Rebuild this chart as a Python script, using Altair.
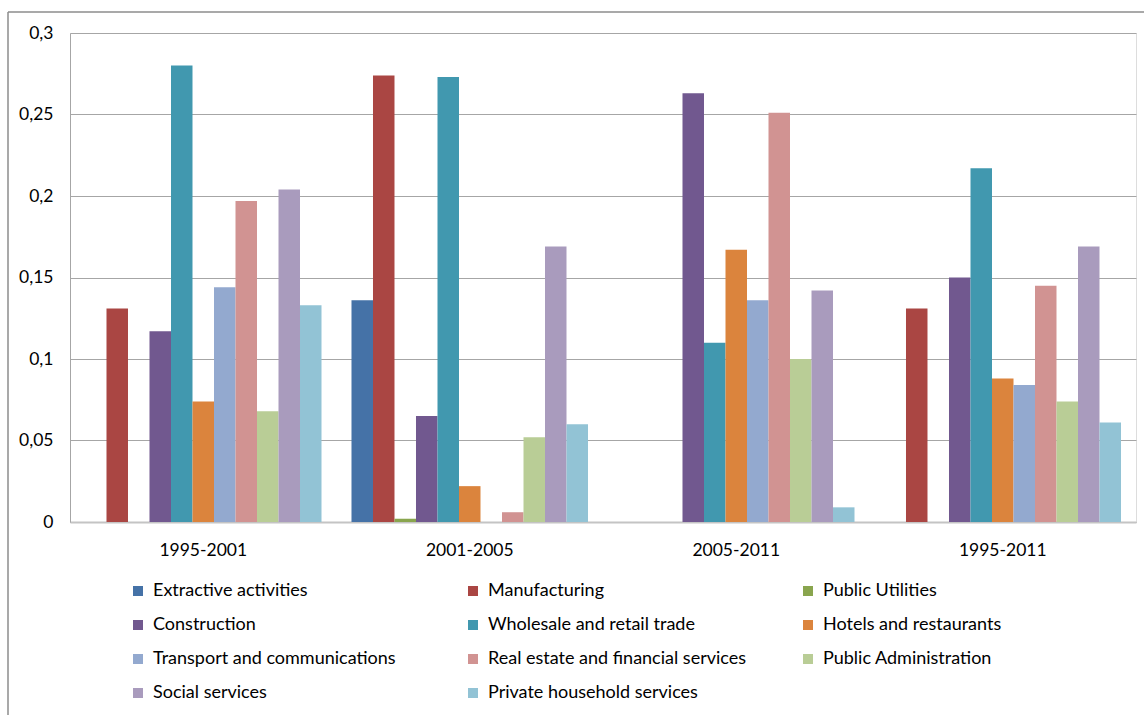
import altair as alt
import pandas as pd

periods = ["1995-2001", "2001-2005", "2005-2011", "1995-2011"]

sectors = [
    "Extractive activities", "Manufacturing", "Public Utilities",
    "Construction", "Wholesale and retail trade", "Hotels and restaurants",
    "Transport and communications", "Real estate and financial services",
    "Public Administration", "Social services", "Private household services",
]

colors = [
    "#4572A7", "#AA4643", "#89A54E", "#71588F", "#4198AF", "#DB843D",
    "#93A9CF", "#D19392", "#B9CD96", "#A99BBD", "#92C3D5",
]

extractive = [0.0, 0.136, 0.0, 0.0]
manufacturing = [0.131, 0.274, 0.0, 0.131]
public_utilities = [0.0, 0.002, 0.0, 0.0]
construction = [0.117, 0.065, 0.263, 0.150]
wholesale = [0.280, 0.273, 0.110, 0.217]
hotels = [0.074, 0.022, 0.167, 0.088]
transport = [0.144, 0.0, 0.136, 0.084]
real_estate = [0.197, 0.006, 0.251, 0.145]
public_admin = [0.068, 0.052, 0.100, 0.074]
social = [0.204, 0.169, 0.142, 0.169]
private_household = [0.133, 0.060, 0.009, 0.061]

series = [extractive, manufacturing, public_utilities, construction, wholesale,
          hotels, transport, real_estate, public_admin, social, private_household]

rows = []
for s, vals in zip(sectors, series):
    for p, v in zip(periods, vals):
        rows.append({"period": p, "sector": s, "value": v})
df = pd.DataFrame(rows)

FONT = "Lato"
W, H = 1066, 489

bars = alt.Chart(df).mark_bar().encode(
    x=alt.X("period:N", sort=periods,
            scale=alt.Scale(paddingInner=0.1125, paddingOuter=0.05625),
            axis=alt.Axis(title=None, labelAngle=0, ticks=False, domain=True,
                          domainColor="#c4c4c4", domainWidth=2, grid=False,
                          labelFont=FONT, labelFontSize=17.5, labelColor="#000000",
                          labelPadding=19)),
    xOffset=alt.XOffset("sector:N", sort=sectors,
                        scale=alt.Scale(paddingInner=0, paddingOuter=0)),
    y=alt.Y("value:Q", scale=alt.Scale(domain=[0, 0.3], nice=False),
            axis=alt.Axis(title=None, values=[0, 0.05, 0.1, 0.15, 0.2, 0.25, 0.3],
                          labelExpr="replace(format(datum.value, '~g'), '.', ',')",
                          ticks=False, domain=True, domainColor="#a6a6a6",
                          grid=True, gridColor="#a6a6a6", gridWidth=1,
                          labelFont=FONT, labelFontSize=17.5, labelColor="#000000",
                          labelPadding=17)),
    color=alt.Color("sector:N", sort=sectors,
                    scale=alt.Scale(domain=sectors, range=colors),
                    legend=alt.Legend(orient="none", legendX=59, legendY=549,
                                      direction="horizontal",
                                      columns=3, gridAlign="all", title=None,
                                      symbolType="square", symbolSize=100,
                                      symbolStrokeWidth=0, labelFont=FONT,
                                      labelFontSize=18, labelColor="#000000",
                                      labelLimit=400, labelOffset=6,
                                      columnPadding=52, rowPadding=16,
                                      padding=0)),
)

frame_df = pd.DataFrame({"k": [0]})
frame_v = alt.Chart(frame_df).mark_rule(color="#8c8c8c", strokeWidth=1.5).encode(
    x=alt.value(-62), y=alt.value(-21), y2=alt.value(H + 300))
frame_h = alt.Chart(frame_df).mark_rule(color="#8c8c8c", strokeWidth=1.5).encode(
    x=alt.value(-62), x2=alt.value(W + 100), y=alt.value(-21))

chart = alt.layer(bars, frame_v, frame_h).properties(
    width=W, height=H,
    autosize=alt.AutoSizeParams(type="none"),
    padding={"left": 70, "top": 33, "right": 8, "bottom": 193},
).configure_view(stroke=None).configure(background="#ffffff")

chart.save("out.html", embed_options={"renderer": "svg", "actions": False})
